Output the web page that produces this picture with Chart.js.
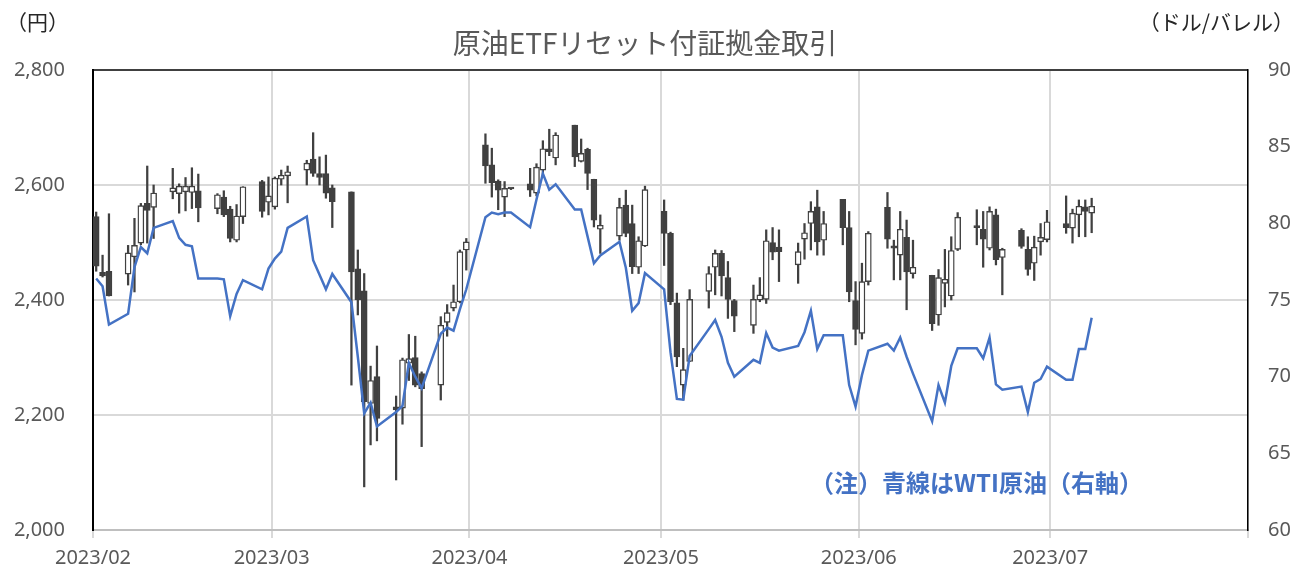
<!DOCTYPE html>
<html><head><meta charset="utf-8">
<script src="https://cdn.jsdelivr.net/npm/chart.js@4.4.1/dist/chart.umd.min.js"></script>
<style>html,body{margin:0;padding:0;background:#fff;}#wrap{width:1296px;height:571px;}</style>
</head><body><div id="wrap"><canvas id="c" width="1296" height="571"></canvas></div>
<script>
const TITLE = '原油ETFリセット付証拠金取引';
const UNIT_LEFT = '（円）';
const UNIT_RIGHT = '（ドル/バレル）';
const NOTE = '（注）青線はWTI原油（右軸）';

const dates = [
 '2023-02-01','2023-02-02','2023-02-03','2023-02-06','2023-02-07','2023-02-08','2023-02-09','2023-02-10',
 '2023-02-13','2023-02-14','2023-02-15','2023-02-16','2023-02-17','2023-02-20','2023-02-21','2023-02-22',
 '2023-02-23','2023-02-24','2023-02-27','2023-02-28',
 '2023-03-01','2023-03-02','2023-03-03','2023-03-06','2023-03-07','2023-03-08','2023-03-09','2023-03-10',
 '2023-03-13','2023-03-14','2023-03-15','2023-03-16','2023-03-17','2023-03-20','2023-03-21','2023-03-22',
 '2023-03-23','2023-03-24','2023-03-27','2023-03-28','2023-03-29','2023-03-30','2023-03-31',
 '2023-04-03','2023-04-04','2023-04-05','2023-04-06','2023-04-07','2023-04-10','2023-04-11','2023-04-12',
 '2023-04-13','2023-04-14','2023-04-17','2023-04-18','2023-04-19','2023-04-20','2023-04-21','2023-04-24',
 '2023-04-25','2023-04-26','2023-04-27','2023-04-28',
 '2023-05-01','2023-05-02','2023-05-03','2023-05-04','2023-05-05','2023-05-08','2023-05-09','2023-05-10',
 '2023-05-11','2023-05-12','2023-05-15','2023-05-16','2023-05-17','2023-05-18','2023-05-19','2023-05-22',
 '2023-05-23','2023-05-24','2023-05-25','2023-05-26','2023-05-29','2023-05-30','2023-05-31',
 '2023-06-01','2023-06-02','2023-06-05','2023-06-06','2023-06-07','2023-06-08','2023-06-09','2023-06-12',
 '2023-06-13','2023-06-14','2023-06-15','2023-06-16','2023-06-19','2023-06-20','2023-06-21','2023-06-22',
 '2023-06-23','2023-06-26','2023-06-27','2023-06-28','2023-06-29','2023-06-30',
 '2023-07-03','2023-07-04','2023-07-05','2023-07-06','2023-07-07'
];
const open = [
 2545,2448,2450,2445,2475,2499,2568,2561,2588,2585,2588,2587,2590,2559,2579,2558,2504,2545,2606,2570,
 2562,2610,2616,2626,2645,2620,2620,2595,2588,2454,2416,2220,2267,2214,2212,2290,2300,2272,2252,2361,2386,2397,2487,
 2670,2635,2607,2579,2594,2602,2586,2626,2663,2647,2704,2641,2662,2610,2523,2511,2565,2533,2457,2494,
 2554,2516,2395,2252,2293,2415,2457,2481,2439,2399,2356,2400,2401,2500,2492,2461,2506,2533,2562,2504,2575,2526,2399,
 2342,2432,2561,2494,2478,2509,2446,2443,2374,2429,2407,2488,2528,2523,2490,2548,2474,2521,2488,2464,2501,2505,
 2533,2525,2548,2562,2551
];
const high = [
 2553,2478,2550,2495,2542,2568,2633,2600,2629,2602,2613,2630,2619,2585,2590,2563,2566,2597,2608,2614,
 2614,2626,2633,2643,2691,2649,2652,2600,2588,2487,2446,2285,2320,2233,2299,2340,2337,2275,2371,2392,2426,2487,2507,
 2689,2664,2609,2606,2595,2629,2637,2677,2697,2691,2704,2680,2664,2610,2548,2577,2591,2565,2510,2598,
 2574,2518,2412,2316,2418,2458,2487,2486,2467,2401,2426,2439,2522,2526,2522,2499,2533,2571,2591,2554,2575,2554,2432,
 2464,2519,2587,2504,2554,2539,2504,2443,2453,2488,2510,2552,2557,2554,2562,2558,2490,2524,2510,2511,2533,2556,
 2581,2558,2574,2574,2577
];
const low = [
 2450,2440,2407,2426,2414,2496,2499,2507,2576,2551,2555,2559,2536,2550,2545,2501,2501,2533,2544,2548,
 2558,2600,2569,2600,2615,2600,2577,2526,2252,2374,2075,2148,2155,2087,2184,2260,2249,2145,2226,2337,2381,2395,2452,
 2603,2579,2557,2545,2592,2580,2581,2616,2651,2635,2632,2640,2592,2527,2481,2504,2510,2446,2446,2493,
 2460,2392,2284,2226,2293,2386,2409,2407,2368,2345,2342,2397,2394,2470,2432,2429,2471,2487,2478,2478,2496,2397,2322,
 2332,2426,2490,2435,2435,2383,2438,2347,2356,2388,2400,2486,2496,2457,2487,2461,2409,2490,2443,2434,2478,2501,
 2516,2499,2510,2510,2517
];
const close = [
 2459,2442,2407,2482,2495,2564,2556,2586,2595,2598,2598,2598,2560,2583,2548,2507,2546,2597,2554,2581,
 2612,2617,2623,2638,2620,2613,2586,2571,2449,2400,2223,2260,2194,2209,2296,2298,2252,2246,2356,2378,2397,2484,2501,
 2633,2604,2591,2594,2593,2591,2631,2663,2658,2687,2649,2655,2620,2539,2530,2561,2516,2458,2503,2592,
 2516,2397,2301,2279,2401,2446,2481,2442,2401,2372,2401,2409,2503,2483,2484,2484,2517,2554,2501,2533,2526,2414,2349,
 2432,2516,2506,2490,2523,2449,2457,2359,2439,2436,2486,2544,2526,2506,2554,2470,2488,2493,2453,2492,2509,2536,
 2526,2551,2563,2554,2563
];
const wti = [
 76.4,75.9,73.4,74.1,77.15,78.45,78.05,79.7,80.15,79.05,78.6,78.5,76.4,76.4,76.35,73.95,75.4,76.3,75.7,77.05,
 77.7,78.15,79.7,80.45,77.6,76.65,75.7,76.7,74.85,71.3,67.6,68.3,66.75,67.7,68.1,70.9,70.0,69.25,72.8,73.2,73.0,74.4,75.7,
 80.4,80.7,80.6,80.7,80.7,79.75,81.55,83.25,82.2,82.55,80.9,80.9,79.15,77.4,77.9,78.8,77.1,74.3,74.8,76.75,
 75.7,71.6,68.55,68.5,71.35,73.1,73.7,72.6,70.9,70.0,71.1,70.9,72.85,71.9,71.7,72.0,72.9,74.3,71.8,72.7,72.7,69.45,68.05,
 70.1,71.7,72.15,71.7,72.55,71.3,70.2,67.1,69.45,68.3,70.7,71.85,71.85,71.2,72.55,69.5,69.15,69.35,67.7,69.6,69.85,70.65,
 69.8,69.8,71.8,71.8,73.85
];
const monthTicks = ['2023-02-01','2023-03-01','2023-04-01','2023-05-01','2023-06-01','2023-07-01','2023-08-01'];
const monthLabels = ['2023/02','2023/03','2023/04','2023/05','2023/06','2023/07',''];

const T0 = Date.parse('2023-02-01');
const dayOf = s => (Date.parse(s) - T0) / 864e5;
const xs = dates.map(d => dayOf(d) + 0.5);
const tickDays = monthTicks.map(dayOf);

const DARK = '#404040';
const tickFont = {family: '"Noto Sans", "Noto Sans CJK JP", sans-serif', size: 20};

const textPlugin = {
  id: 'texts',
  afterDraw(chart) {
    const ctx = chart.ctx;
    ctx.save();
    ctx.textBaseline = 'middle';
    ctx.fillStyle = '#595959';
    ctx.font = '28px "Noto Sans CJK JP"';
    ctx.textAlign = 'center';
    ctx.fillText(TITLE, 645, 43);
    ctx.fillStyle = '#262626';
    ctx.font = '21px "Noto Sans CJK JP"';
    ctx.textAlign = 'left';
    ctx.fillText(UNIT_LEFT, 6, 22);
    ctx.textAlign = 'right';
    ctx.fillText(UNIT_RIGHT, 1294, 22);
    ctx.fillStyle = '#4472C4';
    ctx.font = 'bold 24px "Noto Sans CJK JP"';
    ctx.textAlign = 'left';
    ctx.fillText(NOTE, 810, 483);
    ctx.restore();
  }
};

new Chart(document.getElementById('c'), {
  type: 'bar',
  data: {
    datasets: [
      {
        type: 'line',
        data: xs.map((x, i) => ({x, y: wti[i]})),
        yAxisID: 'y1',
        borderColor: '#4472C4',
        borderWidth: 2.5,
        pointRadius: 0,
        tension: 0,
        order: 0
      },
      {
        data: xs.map((x, i) => ({x, y: [open[i], close[i]]})),
        yAxisID: 'y',
        grouped: false,
        barThickness: 6,
        minBarLength: 2,
        borderSkipped: false,
        borderWidth: 1.4,
        borderColor: DARK,
        backgroundColor: c => (close[c.dataIndex] >= open[c.dataIndex] ? '#ffffff' : DARK),
        order: 1
      },
      {
        data: xs.map((x, i) => ({x, y: [low[i], high[i]]})),
        yAxisID: 'y',
        grouped: false,
        barThickness: 1.6,
        borderWidth: 0,
        backgroundColor: DARK,
        order: 2
      }
    ]
  },
  options: {
    responsive: false,
    animation: false,
    devicePixelRatio: 1,
    layout: {padding: {top: 70, left: 0, right: 0, bottom: 0}},
    plugins: {legend: {display: false}, tooltip: {enabled: false}},
    scales: {
      x: {
        type: 'linear', min: 0, max: tickDays[tickDays.length - 1], offset: false,
        afterBuildTicks: s => { s.ticks = tickDays.map(v => ({value: v})); },
        afterFit: s => { s.height = 41; },
        ticks: {
          autoSkip: false, maxRotation: 0, padding: 8, font: tickFont, color: '#595959',
          callback: (v, i) => monthLabels[i]
        },
        grid: {offset: false, color: '#d9d9d9', lineWidth: 2, tickLength: 8, drawTicks: true},
        border: {color: '#bfbfbf', width: 2}
      },
      y: {
        position: 'left', min: 2000, max: 2800,
        afterFit: s => { s.width = 93; },
        ticks: {stepSize: 200, padding: 28, font: tickFont, color: '#595959',
          callback: v => v.toLocaleString('en-US')},
        grid: {color: c => (c.tick && c.tick.value === 2800 ? '#404040' : '#d9d9d9'), lineWidth: 2, drawTicks: false},
        border: {color: '#000', width: 2}
      },
      y1: {
        position: 'right', min: 60, max: 90,
        afterFit: s => { s.width = 48; },
        ticks: {stepSize: 5, padding: 20, font: tickFont, color: '#595959'},
        grid: {display: false, drawTicks: false},
        border: {color: '#000', width: 1.5}
      }
    }
  },
  plugins: [textPlugin]
});
</script>
</body></html>
